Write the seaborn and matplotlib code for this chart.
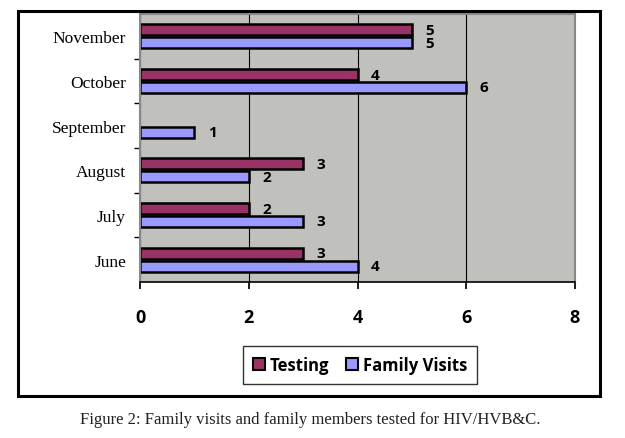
import matplotlib
matplotlib.use("Agg")
import matplotlib.pyplot as plt
import seaborn as sns
import pandas as pd
from matplotlib.patches import Rectangle, Patch

months = ["November", "October", "September", "August", "July", "June"]
testing = [5, 4, 0, 3, 2, 3]
family_visits = [5, 6, 1, 2, 3, 4]
series = ["Testing", "Family Visits"]
colors = ["#993366", "#9999FF"]
xticks = [0, 2, 4, 6, 8]

df = pd.DataFrame({
    "Month": months * 2,
    "Value": testing + family_visits,
    "Series": [series[0]] * len(months) + [series[1]] * len(months),
})

sns.set_theme(style="white")
plt.rcParams["font.family"] = ["DejaVu Sans"]
plt.rcParams["text.color"] = "black"
plt.rcParams["xtick.color"] = "black"
plt.rcParams["ytick.color"] = "black"

fig = plt.figure(figsize=(6.25, 4.39), dpi=100)
ax = fig.add_axes([140 / 625, 1 - 283 / 439, 435 / 625, 268 / 439])

sns.barplot(data=df, y="Month", x="Value", hue="Series", order=months,
            hue_order=series, palette=colors, orient="h", width=0.58,
            gap=0.13, edgecolor="black", linewidth=1.8, ax=ax, legend=False,
            saturation=1)

ax.set_facecolor("#C0C0BC")
ax.set_xlim(0, 8)
ax.set_xticks(xticks)
ax.set_xticklabels([str(t) for t in xticks], family="Open Sans",
                   fontweight="bold", fontsize=13, color="black")
ax.set_yticklabels(months, family="Liberation Serif", fontsize=12.5, color="black")
ax.set_xlabel("")
ax.set_ylabel("")
ax.xaxis.grid(True, color="black", linewidth=0.8)
ax.set_axisbelow(True)
for s in ["top", "right", "left"]:
    ax.spines[s].set_color("#888888")
    ax.spines[s].set_linewidth(1.5)
ax.spines["bottom"].set_color("black")
ax.spines["bottom"].set_linewidth(1.2)
ax.tick_params(axis="x", length=5, color="black", pad=14, direction="out", bottom=True)
ax.tick_params(axis="y", length=4, color="black", pad=6, left=False)
ax.set_yticks([i - 0.5 for i in range(1, len(months))], minor=True)
ax.tick_params(axis="y", which="minor", length=4, left=True, color="black")

for cont in ax.containers:
    for bar in cont:
        w = bar.get_width()
        if w > 0:
            ax.text(w + 0.25, bar.get_y() + bar.get_height() / 2, f"{int(w)}",
                    va="center", ha="left", family="Open Sans",
                    fontweight="bold", fontsize=11, color="black")
        else:
            bar.set_visible(False)

fig.patches.append(Rectangle((18 / 625, 1 - 397 / 439), 582 / 625, 385 / 439,
                             transform=fig.transFigure, fill=False,
                             edgecolor="black", linewidth=2.2))

handles = [Patch(facecolor=c, edgecolor="black", linewidth=1.5) for c in colors]
leg = fig.legend(handles, series, loc="center", bbox_to_anchor=(360 / 625, 1 - 366 / 439),
                 ncol=2, frameon=True, fancybox=False, edgecolor="black",
                 handlelength=0.7, handleheight=0.7, handletextpad=0.3,
                 columnspacing=1.0, borderpad=0.6,
                 prop={"family": "Open Sans", "weight": "bold", "size": 12})
leg.get_frame().set_linewidth(1.0)

fig.text(310 / 625, 1 - 420 / 439, "Figure 2: Family visits and family members tested for HIV/HVB&C.",
         ha="center", va="center", family="Liberation Serif", fontsize=12, color="#222222")

fig.savefig("out.png", dpi=100)
